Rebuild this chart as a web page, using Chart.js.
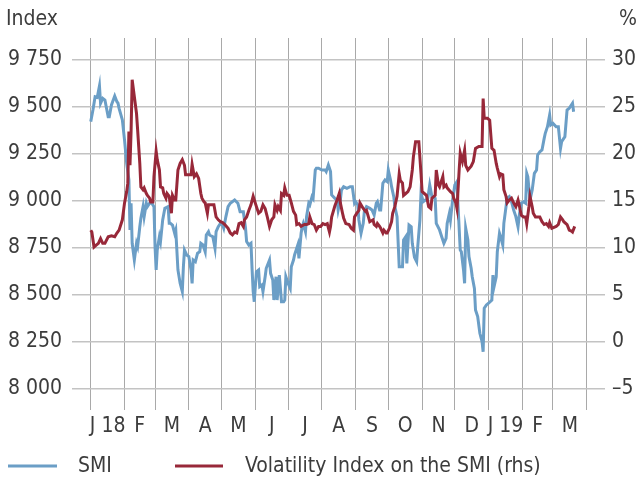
<!DOCTYPE html>
<html>
<head>
<meta charset="utf-8">
<script src="https://cdn.jsdelivr.net/npm/chart.js@4"></script>
<style>
  html, body { margin: 0; padding: 0; background: #fff; }
  canvas { display: block; }
</style>
</head>
<body>
<canvas id="myChart" width="640" height="477"></canvas>
<script>
// days counted from 1 Jan 2018
var smiDays = [0,2,4,6,8,9,11,13,16,17,
  19,22,24,25,26,29,31,33,35,36,
  37,38,40,42,43,45,46,48,49,51,
  52,54,56,58,59,60,61,63,64,66,
  68,71,72,73,75,77,78,80,82,84,
  85,86,88,90,92,93,94,96,98,100,
  101,103,105,106,108,109,112,114,115,117,
  119,121,122,124,126,128,132,135,137,140,
  142,143,145,147,148,149,150,152,154,155,
  157,158,160,161,164,165,167,168,170,171,
  173,175,177,178,179,181,183,184,186,187,
  189,190,191,193,194,195,197,198,200,201,
  203,204,206,207,209,212,215,216,218,220,
  221,224,226,227,229,230,232,235,238,240,
  242,243,245,246,248,250,251,253,256,258,
  260,262,263,265,266,268,270,272,273,275,
  276,278,279,281,283,285,286,287,289,290,
  292,294,295,297,299,300,302,303,305,307,
  309,311,313,316,317,320,322,324,326,327,
  329,330,332,334,336,337,339,340,342,343,
  344,346,347,349,350,352,353,355,357,359,
  360,361,363,365,368,369,370,372,373,375,
  376,378,379,382,384,386,388,390,392,393,
  395,397,399,400,401,403,405,407,409,410,
  412,414,416,417,419,421,422,424,427,429,
  431,432,435,437,439,442,443];
var smiValues = [9422,9484,9555,9551,9612,9520,9546,9537,9448,9448,
  9511,9558,9528,9520,9493,9431,9324,9200,9112,8846,
  8988,8775,8686,8775,8757,8863,8908,8970,8917,8988,
  8970,8988,8988,8970,8757,8633,8739,8810,8784,8899,
  8961,8970,8881,8881,8872,8828,8846,8633,8562,8518,
  8650,8739,8713,8704,8633,8562,8686,8677,8722,8730,
  8775,8766,8730,8819,8837,8819,8810,8748,8837,8863,
  8881,8872,8855,8917,8970,8988,9005,8988,8943,8943,
  8855,8784,8766,8775,8640,8520,8464,8624,8633,8544,
  8553,8518,8597,8642,8686,8615,8580,8473,8597,8473,
  8606,8464,8464,8473,8597,8562,8535,8650,8686,8713,
  8748,8766,8695,8828,8863,8881,8837,8917,8988,8979,
  9023,9014,9165,9174,9174,9165,9165,9156,9191,9156,
  9032,9014,9005,8952,9005,9058,9076,9067,9076,9076,
  8988,8996,8979,8899,8828,8881,8943,8970,8961,8952,
  8926,8988,8996,8952,8952,9094,9112,9103,9165,9112,
  9076,9023,8970,8917,8650,8650,8650,8793,8810,8668,
  8872,8863,8775,8700,8677,8757,8899,9041,8996,9005,
  9005,9085,9023,9014,8881,8846,8810,8775,8801,8881,
  8934,8899,9005,9085,9103,8970,8739,8730,8633,8562,
  8855,8793,8704,8642,8597,8535,8420,8385,8296,8252,
  8198,8429,8447,8456,8473,8606,8544,8597,8730,8828,
  8810,8766,8881,9014,9023,8996,8952,8917,8863,8917,
  8988,8996,8988,9147,9129,9005,9058,9147,9165,9245,
  9262,9271,9333,9360,9395,9457,9404,9413,9395,9395,
  9280,9315,9342,9484,9493,9520,9475];

var vsmiDays = [0,1,3,5,7,9,11,13,16,19,
  22,24,26,29,31,33,34,35,36,37,
  38,40,42,43,45,46,48,49,51,52,
  54,55,57,58,60,61,63,64,66,67,
  69,70,72,74,75,77,78,80,82,84,
  86,87,90,92,93,95,97,99,101,102,
  104,105,107,108,111,113,115,117,119,121,
  123,126,128,130,132,134,136,138,140,141,
  143,145,147,149,152,154,156,158,160,162,
  164,166,168,169,171,172,174,175,177,178,
  180,182,184,186,188,189,191,193,196,198,
  200,201,203,205,207,209,211,213,215,217,
  219,220,221,224,226,228,229,231,232,234,
  237,239,241,242,244,246,247,249,250,252,
  253,255,256,259,260,262,263,265,266,268,
  269,271,272,274,276,277,279,281,283,284,
  286,287,289,291,293,295,296,298,301,303,
  304,306,308,310,312,313,316,317,319,320,
  323,324,326,327,330,332,333,335,336,338,
  339,341,343,344,346,349,351,353,356,359,
  360,361,364,366,368,370,372,373,375,376,
  378,379,381,382,384,386,388,390,392,393,
  395,397,399,400,402,403,405,406,408,410,
  412,414,416,418,420,421,423,425,427,429,
  431,433,434,437,439,441,442,444];
var vsmiValues = [11.9,11.7,10.1,10.3,10.5,11.0,10.5,10.5,11.2,11.3,
  11.2,11.6,11.9,13.0,14.8,16.0,16.9,22.4,18.8,22.4,
  27.9,26.1,24.3,22.6,19.0,16.5,16.2,16.4,15.8,15.6,
  15.3,14.9,14.9,17.6,20.3,19.4,18.3,16.5,16.4,15.8,
  15.3,15.8,15.5,13.7,15.6,15.1,15.1,18.3,19.0,19.4,
  18.8,17.8,17.8,17.8,18.9,17.6,17.9,17.4,15.8,15.3,
  14.9,14.8,13.7,14.6,14.6,14.6,13.3,13.0,12.8,12.7,
  12.5,12.1,11.6,11.4,11.7,11.6,12.6,12.7,12.3,13.0,
  13.3,14.0,14.6,15.5,14.4,13.7,13.9,14.6,14.2,13.3,
  12.3,13.0,13.3,14.6,14.0,14.4,14.0,15.8,15.6,16.4,
  15.6,15.6,14.8,13.9,13.5,12.5,12.6,12.3,12.5,12.5,
  12.6,13.3,12.6,12.5,11.9,12.3,12.3,12.6,12.5,12.6,
  11.7,12.3,13.3,14.5,15.1,15.8,14.8,13.7,13.2,12.6,
  12.5,12.1,11.9,13.3,13.7,14.0,14.8,14.4,14.2,13.9,
  14.0,13.2,12.8,13.0,12.5,12.3,12.6,12.3,12.1,11.6,
  11.9,11.6,11.6,12.1,12.8,13.7,14.4,15.5,17.9,17.2,
  16.9,15.6,15.8,16.0,16.5,18.3,19.7,21.3,21.3,17.9,
  16.0,15.8,15.6,14.4,14.2,15.3,15.6,18.3,16.7,16.5,
  17.6,16.5,16.7,16.4,16.0,15.8,15.3,14.8,14.2,18.3,
  20.1,19.2,20.4,18.8,18.3,18.7,19.2,20.6,20.8,20.8,
  25.9,23.8,23.8,23.6,20.6,20.4,19.0,18.5,17.6,17.9,
  17.8,16.2,15.5,14.8,15.1,15.3,14.8,14.4,15.1,14.6,
  13.5,13.3,13.3,12.6,14.4,15.5,14.4,13.7,13.3,13.3,
  13.3,12.8,12.5,12.6,12.3,12.7,12.1,12.2,12.3,12.5,
  13.3,13.0,12.8,12.5,11.9,11.8,11.7,12.3];

var monthLabels = ['J 18','F','M','A','M','J','J','A','S','O','N','D','J 19','F','M'];
var leftTicks = [8000, 8250, 8500, 8750, 9000, 9250, 9500, 9750];
var rightTicks = [-5, 0, 5, 10, 15, 20, 25, 30];

var FONT = "'DejaVu Sans Condensed', 'Liberation Sans', sans-serif";
var FSIZE = 21;
var TEXT = '#3c3c3c';
var BLUE = '#6b9ec6';
var RED = '#982839';

// month boundaries (day offsets from 1 Jan 2018)
var t0 = Date.UTC(2018, 0, 1);
var monthStarts = [];
for (var i = 0; i <= monthLabels.length; i++) {
  monthStarts.push((Date.UTC(2018, i, 1) - t0) / 86400000);
}
var monthMids = [];
for (var i = 0; i < monthLabels.length; i++) {
  monthMids.push((monthStarts[i] + monthStarts[i + 1]) / 2);
}

function pts(days, vals) {
  return days.map(function (d, i) { return { x: d, y: vals[i] }; });
}
function thousands(v) {
  return String(v).replace(/\B(?=(\d{3})+(?!\d))/g, ' ');
}

var overlay = {
  id: 'overlay',
  afterDraw: function (chart) {
    var ctx = chart.ctx;
    ctx.save();
    ctx.font = FSIZE + 'px ' + FONT;
    ctx.fillStyle = TEXT;
    ctx.textBaseline = 'middle';
    ctx.textAlign = 'left';
    ctx.fillText('Index', 6, 20);
    ctx.textAlign = 'right';
    ctx.fillText('%', 637, 20);
    // legend
    ctx.lineWidth = 3;
    ctx.strokeStyle = BLUE;
    ctx.beginPath(); ctx.moveTo(8, 466); ctx.lineTo(57, 466); ctx.stroke();
    ctx.strokeStyle = RED;
    ctx.beginPath(); ctx.moveTo(175, 466); ctx.lineTo(223, 466); ctx.stroke();
    ctx.textAlign = 'left';
    ctx.fillText('SMI', 78, 467);
    ctx.fillText('Volatility Index on the SMI (rhs)', 245, 467);
    ctx.restore();
  }
};

var ctx = document.getElementById('myChart').getContext('2d');
var myChart = new Chart(ctx, {
  type: 'line',
  data: {
    datasets: [{
      label: 'Volatility Index on the SMI (rhs)',
      data: pts(vsmiDays, vsmiValues),
      yAxisID: 'y2',
      borderColor: RED,
      borderWidth: 3,
      pointRadius: 0,
      tension: 0
    }, {
      label: 'SMI',
      data: pts(smiDays, smiValues),
      yAxisID: 'y',
      borderColor: BLUE,
      borderWidth: 3,
      pointRadius: 0,
      tension: 0
    }]
  },
  options: {
    responsive: false,
    animation: false,
    layout: { padding: { top: 38, left: 0, right: 0, bottom: 0 } },
    scales: {
      x: {
        type: 'linear',
        min: -17.2,
        max: 471.8,
        position: 'bottom',
        border: { display: false },
        grid: { color: '#a9a9a9', lineWidth: 1, drawTicks: false },
        ticks: { display: false },
        afterBuildTicks: function (s) { s.ticks = monthStarts.map(function (v) { return { value: v }; }); },
        afterFit: function (s) { s.height = 0; }
      },
      x2: {
        type: 'linear',
        min: -17.2,
        max: 471.8,
        position: 'bottom',
        border: { display: false },
        grid: { display: false, drawTicks: false },
        ticks: {
          color: TEXT,
          font: { family: FONT, size: FSIZE },
          padding: 4,
          maxRotation: 0,
          autoSkip: false,
          callback: function (v, i) { return monthLabels[i]; }
        },
        afterBuildTicks: function (s) { s.ticks = monthMids.map(function (v) { return { value: v }; }); },
        afterFit: function (s) { s.height = 67; }
      },
      y: {
        position: 'left',
        min: 7888,
        max: 9867,
        border: { display: false },
        grid: { color: '#c3c3c3', lineWidth: 1.5, drawTicks: false },
        ticks: {
          color: TEXT,
          font: { family: FONT, size: FSIZE },
          padding: 10,
          callback: function (v) { return thousands(v); }
        },
        afterBuildTicks: function (s) { s.ticks = leftTicks.map(function (v) { return { value: v }; }); },
        afterFit: function (s) { s.width = 72; }
      },
      y2: {
        position: 'right',
        min: -7.23,
        max: 32.34,
        border: { display: false },
        grid: { display: false, drawTicks: false },
        ticks: {
          color: TEXT,
          font: { family: FONT, size: FSIZE },
          padding: 7,
          callback: function (v) { return v < 0 ? '\u2013' + Math.abs(v) : String(v); }
        },
        afterBuildTicks: function (s) { s.ticks = rightTicks.map(function (v) { return { value: v }; }); },
        afterFit: function (s) { s.width = 35; }
      }
    },
    plugins: {
      legend: { display: false },
      tooltip: { enabled: false }
    }
  },
  plugins: [overlay]
});
</script>
</body>
</html>
